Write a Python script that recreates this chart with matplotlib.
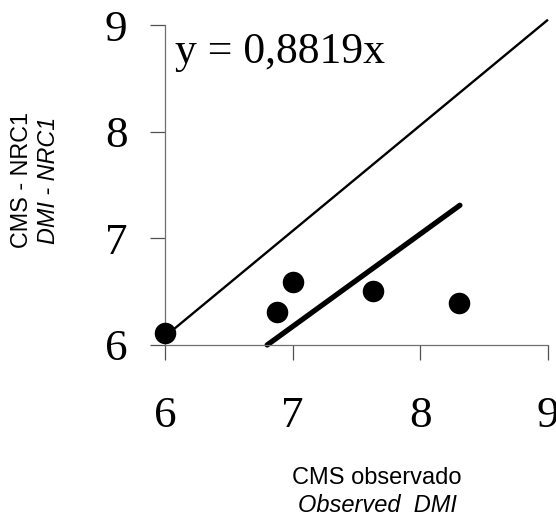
import matplotlib.pyplot as plt

# observed vs predicted DMI (NRC1)
obs_x = [6.00, 6.88, 7.00, 7.63, 8.30]
pred_y = [6.11, 6.31, 6.59, 6.51, 6.39]

# reference 1:1 line and regression line y = 0.8819x
ref_x = [6.0, 9.0]
ref_y = [6.08, 9.05]
fit_x = [6.80, 8.31]
fit_y = [6.00, 7.31]

ticks = [6, 7, 8, 9]
eq_label = "y = 0,8819x"

fig = plt.figure(figsize=(5.56, 5.19), dpi=100)
ax = fig.add_axes([0.2968, 0.3353, 0.6888, 0.6165])

ax.plot(ref_x, ref_y, color='black', lw=1.7, clip_on=False, solid_capstyle='butt')
ax.plot(fit_x, fit_y, color='black', lw=3.8, clip_on=False, solid_capstyle='round')
ax.plot(obs_x, pred_y, 'o', color='black', ms=14.5, clip_on=False, zorder=5)

ax.text(6.08, 8.75, eq_label, fontsize=31.5, family='Liberation Serif', va='center', ha='left')

ax.set_xlim(6, 9)
ax.set_ylim(6, 9)
ax.set_xticks(ticks)
ax.set_yticks(ticks)
ax.set_xticklabels([str(t) for t in ticks], family='Liberation Serif', fontsize=32.5)
ax.set_yticklabels([str(t) for t in ticks], family='Liberation Serif', fontsize=32.5)

for s in ['top', 'right']:
    ax.spines[s].set_visible(False)
for s in ['left', 'bottom']:
    ax.spines[s].set_color('#707070')
    ax.spines[s].set_linewidth(0.9)
ax.tick_params(axis='x', direction='out', length=11, width=0.9, color='#505050', pad=26)
ax.tick_params(axis='y', direction='out', length=11, width=0.9, color='#505050', pad=16)

# axis titles (portuguese / english)
fig.text(22 / 556, 1 - 180 / 519, "CMS - NRC1", rotation=90, fontsize=16.8,
         family='Liberation Sans', ha='center', va='center')
fig.text(49 / 556, 1 - 180 / 519, "DMI - NRC1", rotation=90, fontsize=16.8,
         family='Liberation Sans', style='italic', ha='center', va='center')
fig.text(377 / 556, 1 - 478 / 519, "CMS observado", fontsize=17,
         family='Liberation Sans', ha='center', va='center')
fig.text(377 / 556, 1 - 505 / 519, "Observed  DMI", fontsize=17,
         family='Liberation Sans', style='italic', ha='center', va='center')

fig.savefig('out.png', dpi=100)
